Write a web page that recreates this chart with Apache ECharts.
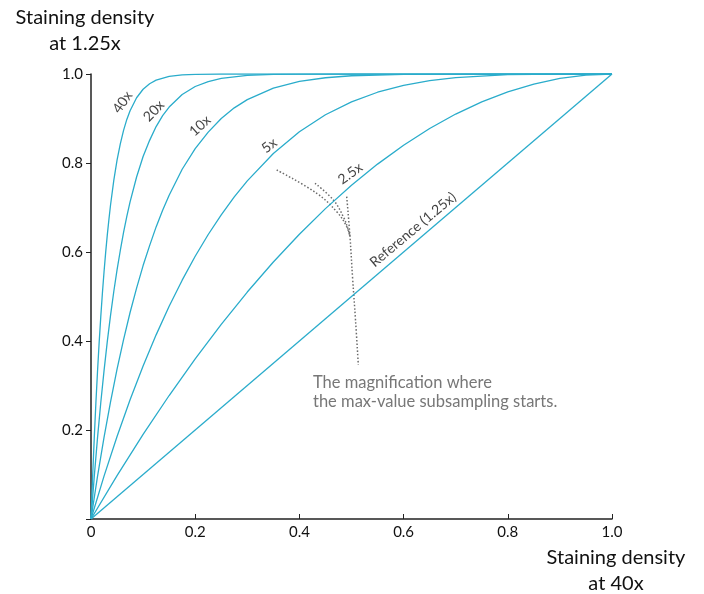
<!DOCTYPE html>
<html>
<head>
<meta charset="utf-8">
<script src="https://cdn.jsdelivr.net/npm/echarts@6/dist/echarts.min.js"></script>
<style>
  html, body { margin: 0; padding: 0; background: #fff; }
  #chart { width: 704px; height: 594px; }
</style>
</head>
<body>
<div id="chart"></div>
<script>
// Staining density at 1.25x against density at 40x, for each magnification
// at which max-value subsampling begins. Points are [x, y] pairs.
var curveReference = [[0, 0], [1, 1]];
var curve2_5x = [[0, 0], [0.05, 0.0975], [0.1, 0.19], [0.15, 0.2775], [0.2, 0.36], [0.25, 0.4375],
  [0.3, 0.51], [0.35, 0.5775], [0.4, 0.64], [0.45, 0.6975], [0.5, 0.75], [0.55, 0.7975],
  [0.6, 0.84], [0.65, 0.8775], [0.7, 0.91], [0.75, 0.9375], [0.8, 0.96], [0.85, 0.9775],
  [0.9, 0.99], [0.95, 0.9975], [1, 1]];
var curve5x = [[0, 0], [0.025, 0.0964], [0.05, 0.1855], [0.075, 0.2679], [0.1, 0.3439], [0.125, 0.4138],
  [0.15, 0.478], [0.175, 0.5367], [0.2, 0.5904], [0.225, 0.6393], [0.25, 0.6836], [0.275, 0.7238],
  [0.3, 0.7599], [0.35, 0.8215], [0.4, 0.8704], [0.45, 0.9085], [0.5, 0.9375], [0.55, 0.959],
  [0.6, 0.9744], [0.65, 0.985], [0.7, 0.9919], [0.8, 0.9984], [0.9, 0.9999], [1, 1]];
var curve10x = [[0, 0], [0.0125, 0.0957], [0.025, 0.1833], [0.0375, 0.2633], [0.05, 0.3366], [0.0625, 0.4031],
  [0.075, 0.464], [0.0875, 0.5189], [0.1, 0.5695], [0.1125, 0.6144], [0.125, 0.6564], [0.1375, 0.6937],
  [0.15, 0.7275], [0.175, 0.7859], [0.2, 0.8322], [0.225, 0.8693], [0.25, 0.8999], [0.275, 0.9239],
  [0.3, 0.9424], [0.35, 0.9681], [0.4, 0.9832], [0.45, 0.9916], [0.5, 0.9961], [0.6, 0.9993],
  [0.7, 0.9999], [0.8, 1], [1, 1]];
var curve20x = [[0, 0], [0.00625, 0.0953], [0.0125, 0.1823], [0.01875, 0.2613], [0.025, 0.333], [0.03125, 0.3986],
  [0.0375, 0.4575], [0.04375, 0.5112], [0.05, 0.5599], [0.05625, 0.6034], [0.0625, 0.6439], [0.06875, 0.68],
  [0.075, 0.7127], [0.0875, 0.7685], [0.1, 0.8147], [0.1125, 0.8509], [0.125, 0.8819], [0.1375, 0.9063],
  [0.15, 0.9257], [0.175, 0.9539], [0.2, 0.9719], [0.225, 0.983], [0.25, 0.99], [0.3, 0.9967],
  [0.35, 0.999], [0.4, 0.9997], [0.5, 1], [1, 1]];
var curve40x = [[0, 0], [0.003125, 0.0952], [0.00625, 0.1818], [0.009375, 0.2606], [0.0125, 0.3314], [0.015625, 0.3962],
  [0.01875, 0.4543], [0.021875, 0.5073], [0.025, 0.5551], [0.028125, 0.5985], [0.03125, 0.638], [0.034375, 0.6731],
  [0.0375, 0.7057], [0.04375, 0.7609], [0.05, 0.8063], [0.05625, 0.8428], [0.0625, 0.8732], [0.06875, 0.8979],
  [0.075, 0.9175], [0.0875, 0.9466], [0.1, 0.9657], [0.1125, 0.9782], [0.125, 0.9861], [0.15, 0.9945],
  [0.175, 0.9979], [0.2, 0.9992], [0.25, 1], [1, 1]];

// Dotted pointer lines running from the note up to the curve labels
var pointerA = [[0.3564, 0.7843], [0.4332, 0.7319], [0.4716, 0.6906], [0.4908, 0.6569], [0.4971, 0.6344]];
var pointerB = [[0.4299, 0.7544], [0.4651, 0.7169], [0.4843, 0.6793], [0.4939, 0.6494], [0.4971, 0.6344]];
var pointerC = [[0.4908, 0.7243], [0.4971, 0.6344], [0.5021, 0.5416], [0.5077, 0.4472], [0.5131, 0.3461]];

// Curve labels: text, anchor [x, y], rotation in degrees
var labelTexts = ['40x', '20x', '10x', '5x', '2.5x', 'Reference (1.25x)'];
var labelAnchors = [[0.0605, 0.9365], [0.1206, 0.917], [0.2092, 0.8837], [0.3421, 0.8391], [0.4976, 0.7762], [0.6182, 0.6502]];
var labelAngles = [55, 46, 42, 37, 36, 40];

var FONT = 'Lato';
var LINE_COLOR = '#2aaccb';

var chart = echarts.init(document.getElementById('chart'));

function curveSeries(data) {
  return {
    type: 'line', data: data, symbol: 'none', smooth: false,
    lineStyle: { color: LINE_COLOR, width: 1.3 }, silent: true, z: 3
  };
}
function pointerSeries(data) {
  return {
    type: 'line', data: data, symbol: 'none', smooth: 0.4,
    lineStyle: { color: '#6b6b6b', width: 1.5, type: [1.5, 2] }, silent: true, z: 2
  };
}

var series = [curveReference, curve2_5x, curve5x, curve10x, curve20x, curve40x].map(curveSeries)
  .concat([pointerA, pointerB, pointerC].map(pointerSeries));

labelTexts.forEach(function (txt, i) {
  series.push({
    type: 'scatter', symbolSize: 0, silent: true, z: 5,
    data: [labelAnchors[i]],
    label: {
      show: true, position: 'inside', formatter: txt, rotate: labelAngles[i],
      color: '#111', fontSize: 14, fontFamily: FONT
    }
  });
});

function fmt(v) {
  return v === 0 ? '0' : v.toFixed(1);
}

function centeredText(text, x, y, size, color) {
  return {
    type: 'text', x: x, y: y,
    style: { text: text, align: 'center', verticalAlign: 'middle', fill: color, font: size + 'px ' + FONT }
  };
}

chart.setOption({
  animation: false,
  grid: { left: 91, right: 92, top: 74, bottom: 75, containLabel: false },
  xAxis: {
    type: 'value', min: 0, max: 1, interval: 0.2,
    axisLine: { lineStyle: { color: '#222', width: 1.5 } },
    axisTick: { inside: true, length: 5, lineStyle: { color: '#222', width: 1 } },
    axisLabel: {
      color: '#111', fontSize: 15, fontFamily: FONT, margin: 6,
      formatter: function (v) { return fmt(v); }
    },
    splitLine: { show: false }
  },
  yAxis: {
    type: 'value', min: 0, max: 1, interval: 0.2,
    axisLine: { lineStyle: { color: '#222', width: 1.5 } },
    axisTick: { inside: false, length: 5, lineStyle: { color: '#222', width: 1 } },
    axisLabel: {
      color: '#111', fontSize: 15, fontFamily: FONT, margin: 8,
      formatter: function (v) { return v === 0 ? '' : v.toFixed(1); }
    },
    splitLine: { show: false }
  },
  graphic: [
    centeredText('Staining density', 85, 18, 20, '#111'),
    centeredText('at 1.25x', 85, 44, 20, '#111'),
    centeredText('Staining density', 616, 558, 20, '#111'),
    centeredText('at 40x', 616, 584, 20, '#111'),
    {
      type: 'text', left: 313, top: 373,
      style: {
        text: 'The magnification where\nthe max-value subsampling starts.',
        fill: '#777', font: '16.5px ' + FONT, lineHeight: 19
      }
    }
  ],
  series: series
});
</script>
</body>
</html>
